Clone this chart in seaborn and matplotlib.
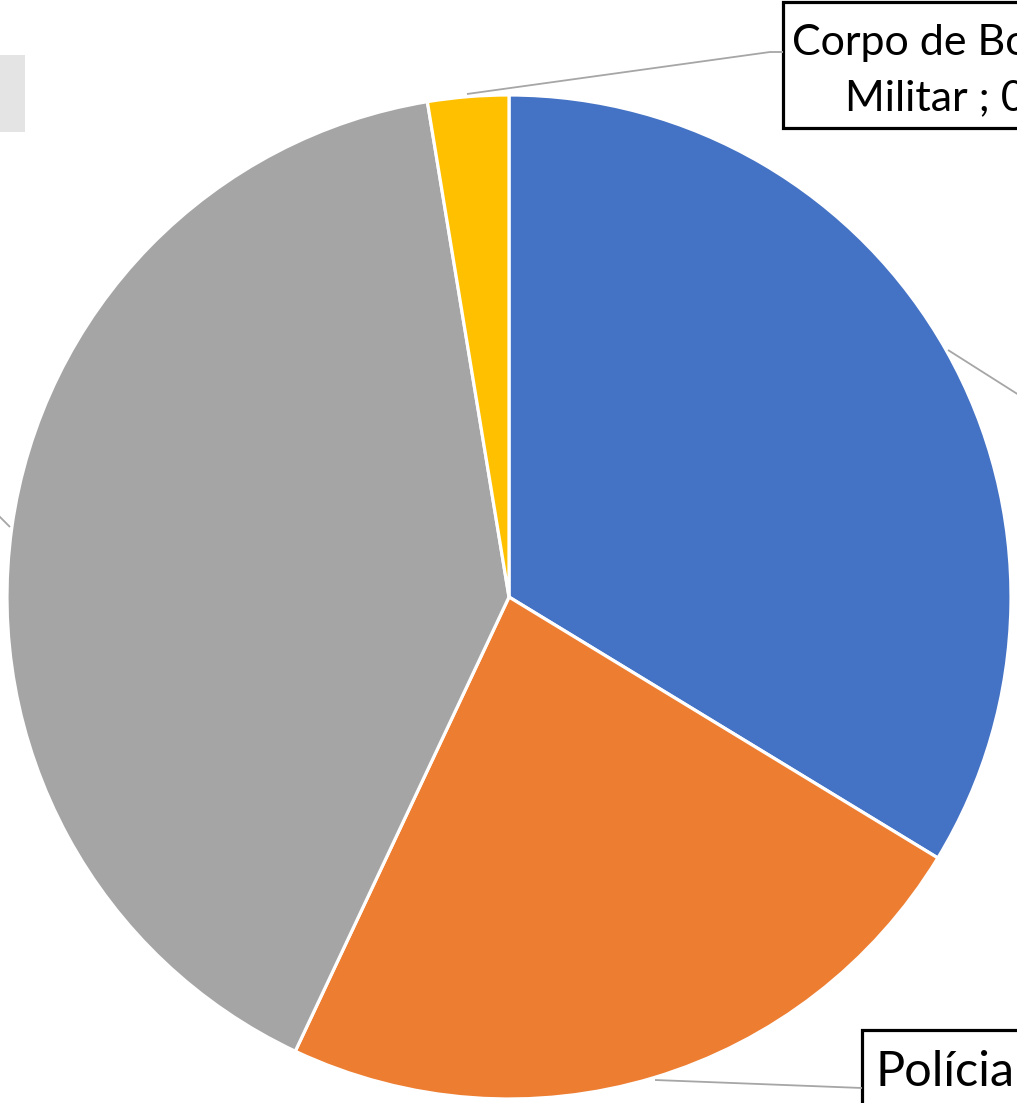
import matplotlib
matplotlib.use("Agg")
import matplotlib.pyplot as plt
from matplotlib.patches import Rectangle
import seaborn as sns

# Slice data (clockwise from 12 o'clock), shares in percent
categories = ["Polícia Militar", "Polícia Civil", "Guarda Municipal", "Corpo de Bombeiros Militar"]
shares = [33.7, 23.3, 40.4, 2.6]
colors = ["#4472C4", "#ED7D31", "#A5A5A5", "#FFC000"]

W, H = 1017, 1103

sns.set_theme(style="white")
plt.rcParams["font.family"] = ["Lato", "DejaVu Sans"]

fig = plt.figure(figsize=(W / 100, H / 100), dpi=100)
ax = fig.add_axes([0, 0, 1, 1])

# axes in pixel coordinates, y pointing down -> counterclock in data = clockwise on screen
ax.pie(shares, colors=colors, startangle=-90, counterclock=True,
       center=(509, 597), radius=502,
       wedgeprops=dict(edgecolor="white", linewidth=2.3))
ax.set_xlim(0, W)
ax.set_ylim(H, 0)
ax.axis("off")

# grey placeholder box at top-left
ax.add_patch(Rectangle((-20, 55), 45, 77, facecolor="#E4E4E4", edgecolor="none"))

# leader lines
line_kw = dict(color="#A6A6A6", lw=1.3, solid_capstyle="butt")
ax.plot([467, 770, 783], [94, 52, 52], **line_kw)
ax.plot([948, 1030], [350, 402], **line_kw)
ax.plot([-5, 10], [512, 527], **line_kw)
ax.plot([655, 862], [1080, 1088], **line_kw)

# label boxes (cut by the figure edge)
box_kw = dict(facecolor="white", edgecolor="black", linewidth=2.3)
ax.add_patch(Rectangle((783, 2), 400, 126, **box_kw))
ax.add_patch(Rectangle((862, 1030), 300, 120, **box_kw))

txt_kw = dict(color="black", va="baseline", ha="left")
ax.text(792, 55, "Corpo de Bombeiros", fontsize=31, **txt_kw)
ax.text(845, 110, "Militar ; 0,03", fontsize=31, **txt_kw)
name1, rest1 = categories[1].split(" ", 1)
ax.text(875, 1086, name1, fontsize=35, **txt_kw)
ax.text(875, 1146, f"{rest1} ; {shares[1]:.0f}%", fontsize=35, **txt_kw)

fig.savefig("out.png", dpi=100)
